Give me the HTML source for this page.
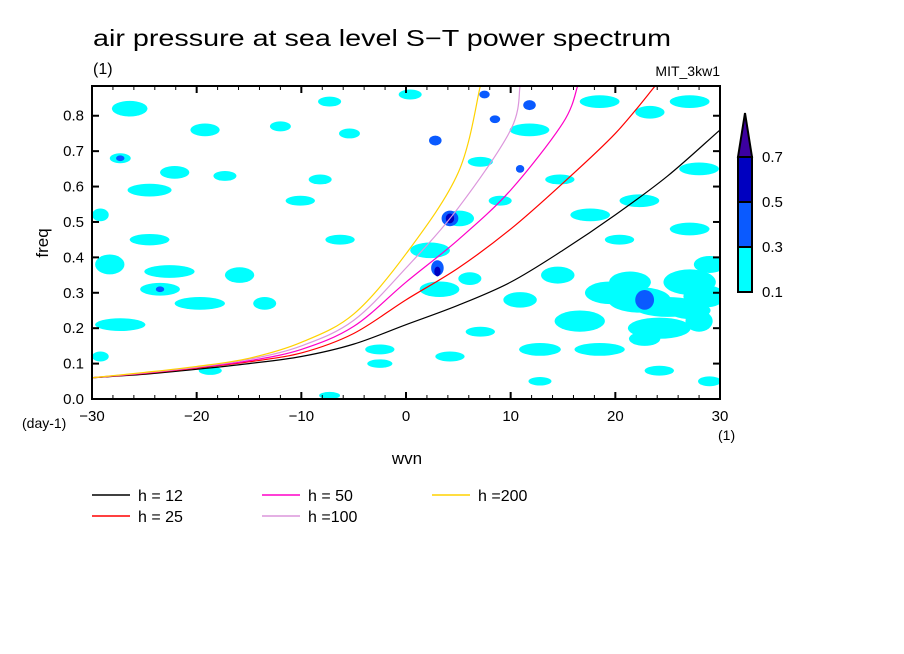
<!DOCTYPE html>
<html><head><meta charset="utf-8">
<style>
html,body{margin:0;padding:0;background:#fff;}
svg{display:block;font-family:"Liberation Sans",sans-serif;}
</style></head>
<body>
<svg id="chart" width="904" height="654" viewBox="0 0 904 654" xmlns="http://www.w3.org/2000/svg">
<rect width="904" height="654" fill="#fff"/>
<text x="93" y="46" font-size="23" textLength="578" lengthAdjust="spacingAndGlyphs">air pressure at sea level S−T power spectrum</text>
<text x="93" y="74" font-size="16">(1)</text>
<text x="720" y="76" font-size="14" text-anchor="end">MIT_3kw1</text>
<g id="field"></g>
<g id="curves"></g>
<g id="axes"></g>
<text x="0" y="0" font-size="17" transform="translate(48,243) rotate(-90)" text-anchor="middle">freq</text>
<text x="407" y="464" font-size="17" text-anchor="middle">wvn</text>
<text x="22" y="428" font-size="14">(day-1)</text>
<text x="718" y="440" font-size="14">(1)</text>
<g id="colorbar"></g>
<g id="legend"></g>
</svg>
<script>
const NS="http://www.w3.org/2000/svg";
const xTicks=[-30,-20,-10,0,10,20,30];
const yTicks=[0.0,0.1,0.2,0.3,0.4,0.5,0.6,0.7,0.8];
const levelColors=["#00ffff","#0a5aff","#0000c0"];
const cbLabels=["0.7","0.5","0.3","0.1"];
// contour blobs: wvn, freq, radius in wvn, radius in freq, level index
const blobWvn=[-26.4,-19.2,-27.3,-22.1,-17.3,-24.5,-29.2,-24.5,-28.3,-22.6,-15.9,-23.5,-19.7,-13.5,-27.3,-29.2,-12,-7.3,-5.4,0.4,-8.2,-10.1,-6.3,-2.5,2.3,3.2,6.1,7.1,5.1,9.0,7.1,11.8,14.7,18.5,17.6,23.3,27.1,28.0,22.3,27.1,20.4,16.6,22.3,27.1,24.2,18.5,12.8,10.9,24.2,29.0,12.8,-7.3,-18.7,4.2,-2.5,25.0,19.5,28.5,14.5,21.4,27.1,22.8,28.0,29.0,2.8,4.2,3.0,7.5,8.5,11.8,10.9,22.8,-27.3,-23.5,3.0,4.2];
const blobFreq=[0.82,0.76,0.68,0.64,0.63,0.59,0.52,0.45,0.38,0.36,0.35,0.31,0.27,0.27,0.21,0.12,0.77,0.84,0.75,0.86,0.62,0.56,0.45,0.14,0.42,0.31,0.34,0.19,0.51,0.56,0.67,0.76,0.62,0.84,0.52,0.81,0.84,0.65,0.56,0.48,0.45,0.22,0.28,0.33,0.20,0.14,0.14,0.28,0.08,0.05,0.05,0.01,0.08,0.12,0.10,0.26,0.30,0.29,0.35,0.33,0.25,0.17,0.22,0.38,0.73,0.51,0.37,0.86,0.79,0.83,0.65,0.28,0.68,0.31,0.36,0.51];
const blobRw=[1.7,1.4,1.0,1.4,1.1,2.1,0.8,1.9,1.4,2.4,1.4,1.9,2.4,1.1,2.4,0.8,1.0,1.1,1.0,1.1,1.1,1.4,1.4,1.4,1.9,1.9,1.1,1.4,1.4,1.1,1.2,1.9,1.4,1.9,1.9,1.4,1.9,1.9,1.9,1.9,1.4,2.4,3.0,2.5,3.0,2.4,2.0,1.6,1.4,1.1,1.1,1.0,1.1,1.4,1.2,3.2,2.4,2.0,1.6,2.0,2.0,1.5,1.3,1.5,0.6,0.8,0.6,0.5,0.5,0.6,0.4,0.9,0.4,0.4,0.3,0.4];
const blobRf=[0.022,0.018,0.014,0.018,0.014,0.018,0.018,0.016,0.028,0.018,0.022,0.018,0.018,0.018,0.018,0.014,0.014,0.014,0.014,0.014,0.014,0.014,0.014,0.014,0.022,0.022,0.018,0.014,0.022,0.014,0.014,0.018,0.014,0.018,0.018,0.018,0.018,0.018,0.018,0.018,0.014,0.030,0.036,0.036,0.030,0.018,0.018,0.022,0.014,0.014,0.012,0.010,0.012,0.014,0.012,0.028,0.032,0.032,0.024,0.030,0.024,0.020,0.030,0.024,0.014,0.022,0.022,0.011,0.011,0.014,0.011,0.028,0.008,0.008,0.014,0.014];
const blobLevel=[0,0,0,0,0,0,0,0,0,0,0,0,0,0,0,0,0,0,0,0,0,0,0,0,0,0,0,0,0,0,0,0,0,0,0,0,0,0,0,0,0,0,0,0,0,0,0,0,0,0,0,0,0,0,0,0,0,0,0,0,0,0,0,0,1,1,1,1,1,1,1,1,1,1,2,2];
// dispersion curves
const curveNames=["h = 12","h = 25","h = 50","h =100","h =200"];
const curveColors=["#000000","#ff0000","#ff00c8","#dc96dc","#ffd200"];
const curveWvn=[-30,-25,-20,-15,-10,-5,0,5,10,15,20,25,30];
const curveFreq=[
 [0.06,0.07,0.084,0.10,0.12,0.155,0.21,0.265,0.33,0.42,0.52,0.63,0.76],
 [0.06,0.072,0.087,0.105,0.13,0.185,0.28,0.37,0.48,0.61,0.75,null,null],
 [0.06,0.073,0.089,0.108,0.14,0.205,0.33,0.45,0.59,0.78,null,null,null],
 [0.06,0.074,0.09,0.112,0.15,0.222,0.37,0.54,0.76,null,null,null,null],
 [0.06,0.075,0.092,0.115,0.16,0.24,0.41,0.64,null,null,null,null,null]
];
const curveEndWvn=[30,23.8,16.4,10.9,7.1];
const X0=92,X1=720,Y0=399,Y1=86,FMAX=0.884;
const sx=v=>X0+(v+30)/60*(X1-X0);
const sy=f=>Y0-f/FMAX*(Y0-Y1);
function mk(t,a,p){const e=document.createElementNS(NS,t);for(const k in a)e.setAttribute(k,a[k]);(p||document.getElementById('chart')).appendChild(e);return e;}
const field=document.getElementById('field');
const clip=mk('clipPath',{id:'pc'});mk('rect',{x:X0,y:Y1,width:X1-X0,height:Y0-Y1},clip);
field.setAttribute('clip-path','url(#pc)');
for(let lv=0;lv<3;lv++){
 for(let i=0;i<blobWvn.length;i++){
  if(blobLevel[i]!==lv)continue;
  const e=mk('ellipse',{cx:sx(blobWvn[i]),cy:sy(blobFreq[i]),rx:blobRw[i]*10.47,ry:blobRf[i]/FMAX*(Y0-Y1),fill:levelColors[lv]},field);
  
  
 }
}
const curves=document.getElementById('curves');
curves.setAttribute('clip-path','url(#pc)');
for(let c=0;c<curveFreq.length;c++){
 let pts=[];
 for(let j=0;j<curveWvn.length;j++){
  const f=curveFreq[c][j];
  if(f===null){pts.push([sx(curveEndWvn[c]),sy(FMAX)]);break;}
  pts.push([sx(curveWvn[j]),sy(f)]);
 }
 if(pts[pts.length-1][1]>Y1){const a=pts[pts.length-2],b=pts[pts.length-1];pts.push([b[0]+(b[0]-a[0])*0.5,b[1]+(b[1]-a[1])*0.5]);}
 let d='M'+pts[0][0]+','+pts[0][1];
 for(let j=0;j<pts.length-1;j++){
  const p0=pts[Math.max(0,j-1)],p1=pts[j],p2=pts[j+1],p3=pts[Math.min(pts.length-1,j+2)];
  const c1=[p1[0]+(p2[0]-p0[0])/6,p1[1]+(p2[1]-p0[1])/6];
  const c2=[p2[0]-(p3[0]-p1[0])/6,p2[1]-(p3[1]-p1[1])/6];
  d+=' C'+c1.join(',')+' '+c2.join(',')+' '+p2.join(',');
 }
 const e=mk('path',{d:d,fill:'none',stroke:curveColors[c],'stroke-width':1.2},curves);
 
 
}
const axes=document.getElementById('axes');
const fr=mk('rect',{x:X0,y:Y1,width:X1-X0,height:Y0-Y1,fill:'none',stroke:'#000','stroke-width':2},axes);


for(const t of xTicks){
 mk('line',{x1:sx(t),x2:sx(t),y1:Y0,y2:Y0-7,stroke:'#000','stroke-width':2},axes);
 mk('line',{x1:sx(t),x2:sx(t),y1:Y1,y2:Y1+7,stroke:'#000','stroke-width':2},axes);
 for(let m=1;m<5&&t<30;m++){mk('line',{x1:sx(t+m*2),x2:sx(t+m*2),y1:Y0,y2:Y0-4,stroke:'#000'},axes);mk('line',{x1:sx(t+m*2),x2:sx(t+m*2),y1:Y1,y2:Y1+4,stroke:'#000'},axes);}
 const tx=mk('text',{x:sx(t),y:Y0+22,'font-size':15,'text-anchor':'middle'},axes);
 tx.textContent=(t<0?'−':'')+Math.abs(t);
 
 
}
for(const t of yTicks){
 mk('line',{x1:X0,x2:X0+7,y1:sy(t),y2:sy(t),stroke:'#000','stroke-width':2},axes);
 mk('line',{x1:X1,x2:X1-7,y1:sy(t),y2:sy(t),stroke:'#000','stroke-width':2},axes);
 const tx=mk('text',{x:X0-8,y:sy(t)+5,'font-size':15,'text-anchor':'end'},axes);
 tx.textContent=t.toFixed(1);
 
 
}
const cb=document.getElementById('colorbar');
mk('polygon',{points:'738,157 752,157 745,113',fill:'#3c00a0',stroke:'#000','stroke-width':2},cb);
const cbCols=["#0000c0","#0a5aff","#00ffff"];
for(let i=0;i<3;i++){mk('rect',{x:738,y:157+i*45,width:14,height:45,fill:cbCols[i],stroke:'#000','stroke-width':2},cb);}
for(let i=0;i<4;i++){const tx=mk('text',{x:762,y:162+i*45,'font-size':15},cb);tx.textContent=cbLabels[i];
 
 }
const lg=document.getElementById('legend');
const lgX=[92,92,262,262,432],lgY=[495,516,495,516,495];
for(let c=0;c<5;c++){
 const g=mk('g',{},lg);
 
 
 mk('line',{x1:lgX[c],x2:lgX[c]+38,y1:lgY[c],y2:lgY[c],stroke:curveColors[c],'stroke-width':1.5},g);
 const tx=mk('text',{x:lgX[c]+46,y:lgY[c]+6,'font-size':16},g);tx.textContent=curveNames[c];
}
</script>
</body></html>
